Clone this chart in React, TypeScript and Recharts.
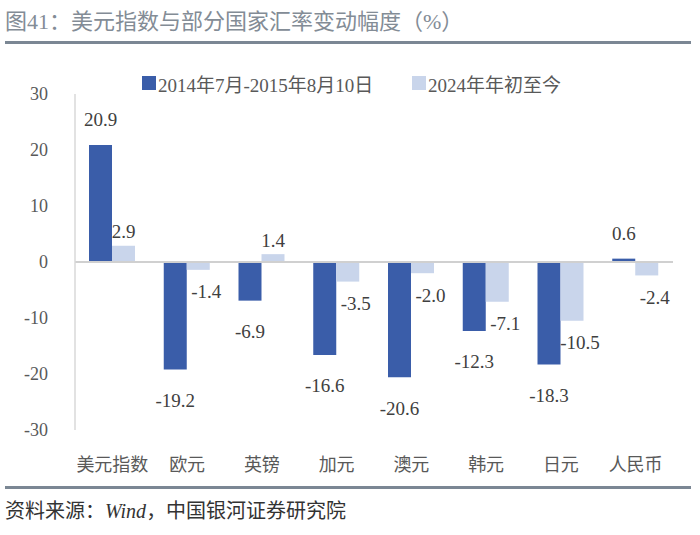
import React from "react"
import { Bar, BarChart, ReferenceLine, XAxis, YAxis } from "recharts"

const categories = ["美元指数", "欧元", "英镑", "加元", "澳元", "韩元", "日元", "人民币"]
const change2014to2015 = [20.9, -19.2, -6.9, -16.6, -20.6, -12.3, -18.3, 0.6]
const change2024ytd = [2.9, -1.4, 1.4, -3.5, -2.0, -7.1, -10.5, -2.4]
const yTicks = [-30, -20, -10, 0, 10, 20, 30]
const seriesNames = ["2014年7月-2015年8月10日", "2024年年初至今"]

const DARK = "#3A5DA9"
const LIGHT = "#C9D5EB"
const RULE = "#7B8794"
const FONT = "'Liberation Serif', 'Noto Sans CJK SC', serif"

const data = categories.map((name, i) => ({
  name,
  a: change2014to2015[i],
  b: change2024ytd[i],
}))

// labels sit outside the bar end; the light series nudges its negatives right
const makeLabel = (upGap: number, downGap: number, downDx: number) => (props: any) => {
  const x = Number(props.x)
  const y = Number(props.y)
  const w = Number(props.width)
  const h = Number(props.height)
  const v = Number(props.value)
  const top = Math.min(y, y + h)
  const bottom = Math.max(y, y + h)
  const neg = v < 0
  return (
    <text
      x={x + w / 2 + (neg ? downDx : 0)}
      y={neg ? bottom + downGap : top - upGap}
      textAnchor="middle"
      dominantBaseline="central"
      fontSize={19}
      fill="#404040"
      fontFamily={FONT}
    >
      {v.toFixed(1)}
    </text>
  )
}

const LegendItem = ({ color, label, left }: { color: string; label: string; left: number }) => (
  <div style={{ position: "absolute", left, top: 72, height: 22, display: "flex", alignItems: "center" }}>
    <span style={{ width: 14, height: 14, background: color, display: "inline-block", marginRight: 2 }} />
    <span style={{ fontSize: 19, color: "#595959", fontFamily: FONT, whiteSpace: "nowrap" }}>{label}</span>
  </div>
)

export default function App() {
  return (
    <div
      style={{
        position: "absolute",
        left: 0,
        top: 0,
        width: 700,
        height: 535,
        background: "#fff",
        overflow: "hidden",
        fontFamily: FONT,
      }}
    >
      <div style={{ position: "absolute", left: 5, top: 8, fontSize: 22, lineHeight: "28px", color: "#838C96", whiteSpace: "nowrap" }}>
        图41：美元指数与部分国家汇率变动幅度（%）
      </div>
      <div style={{ position: "absolute", left: 5, top: 41, width: 686, height: 3, background: RULE }} />

      <BarChart
        width={700}
        height={535}
        data={data}
        margin={{ top: 94, right: 27, left: 0, bottom: 65 }}
        barGap={0}
        style={{ position: "absolute", left: 0, top: 0 }}
      >
        <YAxis
          type="number"
          domain={[-30, 30]}
          ticks={yTicks}
          interval={0}
          width={75}
          axisLine={{ stroke: "#D9D9D9", strokeWidth: 1.5 }}
          tickLine={false}
          tickSize={0}
          tickMargin={27}
          tick={{ fontSize: 18, fill: "#595959", fontFamily: FONT }}
        />
        <XAxis
          dataKey="name"
          interval={0}
          height={40}
          axisLine={false}
          tickLine={false}
          tickSize={0}
          tickMargin={28}
          tick={{ fontSize: 18, fill: "#595959", fontFamily: FONT }}
        />
        <Bar dataKey="a" fill={DARK} barSize={23} isAnimationActive={false} label={makeLabel(25, 31, 0)} />
        <Bar dataKey="b" fill={LIGHT} barSize={23} isAnimationActive={false} label={makeLabel(14, 22, 8)} />
        <ReferenceLine y={0} stroke="#D0D0D0" strokeWidth={2} />
      </BarChart>

      <LegendItem color={DARK} label={seriesNames[0]} left={142} />
      <LegendItem color={LIGHT} label={seriesNames[1]} left={412} />

      <div style={{ position: "absolute", left: 5, top: 486, width: 686, height: 3, background: RULE }} />
      <div style={{ position: "absolute", left: 5, top: 498, fontSize: 20, lineHeight: "26px", color: "#333", whiteSpace: "nowrap" }}>
        资料来源：<span style={{ fontStyle: "italic" }}>Wind</span>，中国银河证券研究院
      </div>
    </div>
  )
}
